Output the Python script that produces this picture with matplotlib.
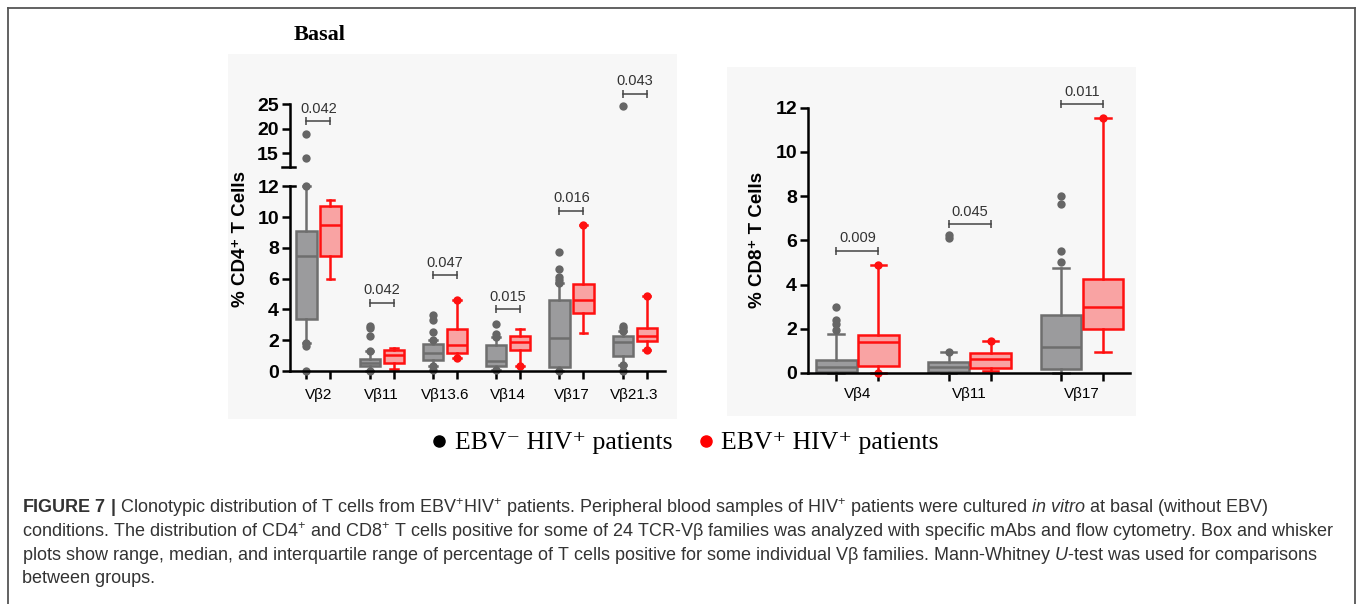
import matplotlib
matplotlib.use('Agg')
import matplotlib.pyplot as plt
from matplotlib.lines import Line2D
from matplotlib.patches import Rectangle
from matplotlib.font_manager import FontProperties

plt.rcParams['font.family'] = ['Liberation Sans', 'DejaVu Sans']
plt.rcParams['mathtext.fontset'] = 'custom'
plt.rcParams['mathtext.rm'] = 'Liberation Sans'
plt.rcParams['mathtext.it'] = 'Liberation Sans:italic'
plt.rcParams['mathtext.bf'] = 'Liberation Sans:bold'

# ---- CD4 panel ----
cd4_labels = ['Vβ2', 'Vβ11', 'Vβ13.6', 'Vβ14', 'Vβ17', 'Vβ21.3']
# EBV- HIV+ (gray)
cd4_neg_q1 = [3.4, 0.3, 0.7, 0.3, 0.25, 0.95]
cd4_neg_med = [7.5, 0.55, 1.15, 0.65, 2.15, 1.9]
cd4_neg_q3 = [9.1, 0.8, 1.75, 1.7, 4.6, 2.3]
cd4_neg_lo = [1.8, 0.0, 0.3, 0.05, 0.0, 0.4]
cd4_neg_hi = [12.0, 1.3, 2.0, 2.2, 5.7, 2.6]
cd4_neg_out = [[12.0, 14.0, 18.9, 1.8, 1.6, 0.0],
               [1.3, 2.3, 2.8, 2.9, 0.0],
               [2.0, 2.55, 3.3, 3.65, 0.3, 0.05],
               [2.2, 2.4, 3.05, 0.05],
               [5.7, 5.9, 6.1, 6.6, 7.75, 0.0],
               [2.6, 2.8, 2.9, 0.4, 0.0, 24.6]]
# EBV+ HIV+ (red)
cd4_pos_q1 = [7.5, 0.5, 1.2, 1.35, 3.8, 1.95]
cd4_pos_med = [9.5, 1.05, 1.7, 1.9, 4.6, 2.3]
cd4_pos_q3 = [10.7, 1.35, 2.75, 2.25, 5.65, 2.8]
cd4_pos_lo = [6.0, 0.1, 0.85, 0.3, 2.5, 1.35]
cd4_pos_hi = [11.1, 1.5, 4.6, 2.7, 9.5, 4.9]
cd4_pos_out = [[], [], [4.6, 0.85], [0.3], [9.5], [4.9, 1.35]]
cd4_p = ['0.042', '0.042', '0.047', '0.015', '0.016', '0.043']
cd4_p_y = [21.5, 4.43, 6.23, 4.0, 10.4, 27.2]

# ---- CD8 panel ----
cd8_labels = ['Vβ4', 'Vβ11', 'Vβ17']
cd8_neg_q1 = [0.05, 0.05, 0.18]
cd8_neg_med = [0.25, 0.28, 1.19]
cd8_neg_q3 = [0.6, 0.48, 2.62]
cd8_neg_lo = [0.0, 0.0, 0.0]
cd8_neg_hi = [1.75, 0.96, 4.76]
cd8_neg_out = [[1.95, 2.2, 2.4, 3.0], [0.96, 6.1, 6.25], [5.0, 5.5, 7.65, 8.0]]
cd8_pos_q1 = [0.33, 0.21, 1.98]
cd8_pos_med = [1.39, 0.63, 3.0]
cd8_pos_q3 = [1.72, 0.92, 4.25]
cd8_pos_lo = [0.0, 0.1, 0.96]
cd8_pos_hi = [4.9, 1.46, 11.55]
cd8_pos_out = [[4.9, 0.0], [1.46], [11.55]]
cd8_p = ['0.009', '0.045', '0.011']
cd8_p_y = [5.52, 6.73, 12.17]

GRAY_F, GRAY_E, GRAY_D = '#9b9b9d', '#6e6e6e', '#666666'
RED_F, RED_E = '#f9a3a3', '#ff1010'
OFF = 0.19
BREAK = 12.5   # values above this go to the upper (broken) axis


def make_stats(q1, med, q3, lo, hi, out, keep):
    return [dict(q1=a, med=b, q3=c, whislo=d, whishi=e,
                 fliers=[v for v in f if keep(v)])
            for a, b, c, d, e, f in zip(q1, med, q3, lo, hi, out)]


def draw_boxes(ax, stats, pos, face, edge, dot, width, capw):
    ax.bxp(stats, positions=pos, widths=width, patch_artist=True,
           manage_ticks=False, capwidths=capw,
           boxprops=dict(facecolor=face, edgecolor=edge, linewidth=1.8),
           whiskerprops=dict(color=edge, linewidth=1.8),
           capprops=dict(color=edge, linewidth=1.8),
           medianprops=dict(color=edge, linewidth=1.8),
           flierprops=dict(marker='o', markerfacecolor=dot,
                           markeredgecolor='none', markersize=6))


def bracket(ax, x1, x2, y, txt):
    ax.plot([x1, x2], [y, y], color='#444444', lw=1.1, marker='|',
            markersize=6, markeredgewidth=1.1, clip_on=False)
    ax.annotate(txt, ((x1 + x2) / 2, y), xytext=(0, 9),
                textcoords='offset points', ha='center', va='center',
                fontsize=10.5, color='#333333', annotation_clip=False)


def style(ax):
    for s in ['top', 'right']:
        ax.spines[s].set_visible(False)
    for s in ['left', 'bottom']:
        ax.spines[s].set_linewidth(1.8)
    ax.tick_params(axis='both', which='major', length=6, width=1.8,
                   labelsize=14, pad=2)
    ax.set_facecolor('none')


W, H = 1358, 604
fig = plt.figure(figsize=(W / 100, H / 100), dpi=100)

# panel backgrounds and outer frame
for x0, y0, x1, y1 in [(228, 54, 677, 419), (727, 67, 1136, 416)]:
    fig.add_artist(Rectangle((x0 / W, 1 - y1 / H), (x1 - x0) / W, (y1 - y0) / H,
                             transform=fig.transFigure, facecolor='#f7f7f7',
                             edgecolor='none', zorder=-5))
for xs, ys in [([8 / W, 8 / W], [0, 1 - 8 / H]),
               ([8 / W, 1355 / W], [1 - 8 / H, 1 - 8 / H]),
               ([1355 / W, 1355 / W], [0, 1 - 8 / H])]:
    fig.add_artist(Line2D(xs, ys, transform=fig.transFigure, color='#555555', lw=1.3))

# ---- left panel: broken y axis ----
n4 = len(cd4_labels)
c4 = list(range(n4))
g4 = [c - OFF for c in c4]
r4 = [c + OFF for c in c4]

ax_lo = fig.add_axes([290 / W, 0.3768, 375 / W, 0.3301])
ax_hi = fig.add_axes([290 / W, 0.7235, 375 / W, 0.1444])
for ax, keep in ((ax_lo, lambda v: v <= BREAK), (ax_hi, lambda v: v > BREAK)):
    style(ax)
    neg4 = make_stats(cd4_neg_q1, cd4_neg_med, cd4_neg_q3, cd4_neg_lo,
                      cd4_neg_hi, cd4_neg_out, keep)
    pos4 = make_stats(cd4_pos_q1, cd4_pos_med, cd4_pos_q3, cd4_pos_lo,
                      cd4_pos_hi, cd4_pos_out, keep)
    draw_boxes(ax, neg4, g4, GRAY_F, GRAY_E, GRAY_D, 0.32, 0.12)
    draw_boxes(ax, pos4, r4, RED_F, RED_E, RED_E, 0.32, 0.12)
    ax.set_xlim(-0.45, 5.48)

ax_lo.set_ylim(-0.35, 12.6)
ax_lo.spines['bottom'].set_position(('data', 0))
ax_lo.spines['left'].set_bounds(0, 12)
ax_lo.set_yticks(range(0, 13, 2), [str(v) for v in range(0, 13, 2)], fontweight='bold')
ax_lo.set_xticks(g4 + r4, [''] * (2 * n4))
ax_lo.set_xticks(c4, cd4_labels, minor=True, fontsize=11)
ax_lo.tick_params(axis='x', which='minor', length=0, pad=12)
ax_lo.plot([-0.45, -0.37], [12, 12], color='k', lw=1.8, clip_on=False)

ax_hi.set_ylim(12.2, 30)
ax_hi.spines['bottom'].set_visible(False)
ax_hi.spines['left'].set_bounds(12.2, 25)
ax_hi.set_yticks([15, 20, 25], ['15', '20', '25'], fontweight='bold')
ax_hi.set_xticks([])
ax_hi.plot([-0.577, -0.37], [12.2, 12.2], color='k', lw=1.8, clip_on=False)

for i in range(n4):
    tgt = ax_hi if cd4_p_y[i] > BREAK else ax_lo
    bracket(tgt, g4[i], r4[i], cd4_p_y[i], cd4_p[i])

fig.text(240 / W, 1 - 239 / H, '% CD4⁺ T Cells', rotation=90, ha='center',
         va='center', fontsize=13.5, fontweight='bold')
fig.text(320 / W, 1 - 35.5 / H, 'Basal', ha='center', va='center', fontsize=16,
         fontweight='bold', family=['Liberation Serif', 'DejaVu Serif'])

# ---- right panel ----
n8 = len(cd8_labels)
c8 = list(range(n8))
g8 = [c - 0.1875 for c in c8]
r8 = [c + 0.1875 for c in c8]
neg8 = make_stats(cd8_neg_q1, cd8_neg_med, cd8_neg_q3, cd8_neg_lo, cd8_neg_hi,
                  cd8_neg_out, lambda v: True)
pos8 = make_stats(cd8_pos_q1, cd8_pos_med, cd8_pos_q3, cd8_pos_lo, cd8_pos_hi,
                  cd8_pos_out, lambda v: True)

ax8 = fig.add_axes([808 / W, 0.3715, 322 / W, 0.4793])
style(ax8)
draw_boxes(ax8, neg8, g8, GRAY_F, GRAY_E, GRAY_D, 0.36, 0.14)
draw_boxes(ax8, pos8, r8, RED_F, RED_E, RED_E, 0.36, 0.14)
ax8.set_xlim(-0.44, 2.43)
ax8.set_ylim(-0.3, 12.8)
ax8.spines['bottom'].set_position(('data', 0))
ax8.spines['left'].set_bounds(0, 12)
ax8.set_yticks(range(0, 13, 2), [str(v) for v in range(0, 13, 2)], fontweight='bold')
ax8.set_xticks(g8 + r8, [''] * (2 * n8))
ax8.set_xticks(c8, cd8_labels, minor=True, fontsize=11)
ax8.tick_params(axis='x', which='minor', length=0, pad=10)
for i in range(n8):
    bracket(ax8, g8[i], r8[i], cd8_p_y[i], cd8_p[i])

fig.text(758 / W, 1 - 240 / H, '% CD8⁺ T Cells', rotation=90, ha='center',
         va='center', fontsize=13.5, fontweight='bold')

# ---- legend ----
serif = FontProperties(family=['Liberation Serif', 'DejaVu Serif'], size=18.5)
handles = [Line2D([], [], ls='', marker='o', color='black', markersize=8),
           Line2D([], [], ls='', marker='o', color='#ff0000', markersize=8)]
fig.legend(handles, ['EBV⁻ HIV⁺ patients', 'EBV⁺ HIV⁺ patients'], ncol=2,
           loc='center', bbox_to_anchor=(685 / W, 1 - 443 / H), frameon=False,
           prop=serif, handlelength=0.6, handletextpad=0.3, columnspacing=1.0)

# ---- caption ----
caption = [
    r'$\mathbf{FIGURE\ 7\ |}$ Clonotypic distribution of T cells from EBV$^{+}$HIV$^{+}$ patients. '
    r'Peripheral blood samples of HIV$^{+}$ patients were cultured $\mathit{in\ vitro}$ at basal (without EBV)',
    r'conditions. The distribution of CD4$^{+}$ and CD8$^{+}$ T cells positive for some of 24 TCR-Vβ '
    r'families was analyzed with specific mAbs and flow cytometry. Box and whisker',
    r'plots show range, median, and interquartile range of percentage of T cells positive for some '
    r'individual Vβ families. Mann-Whitney $\mathit{U}$-test was used for comparisons',
    'between groups.',
]
for k, line in enumerate(caption):
    fig.text(22 / W, 1 - (508 + 23.5 * k) / H, line, ha='left', va='center',
             fontsize=13, color='#333333')

fig.savefig('out.png', dpi=100)
